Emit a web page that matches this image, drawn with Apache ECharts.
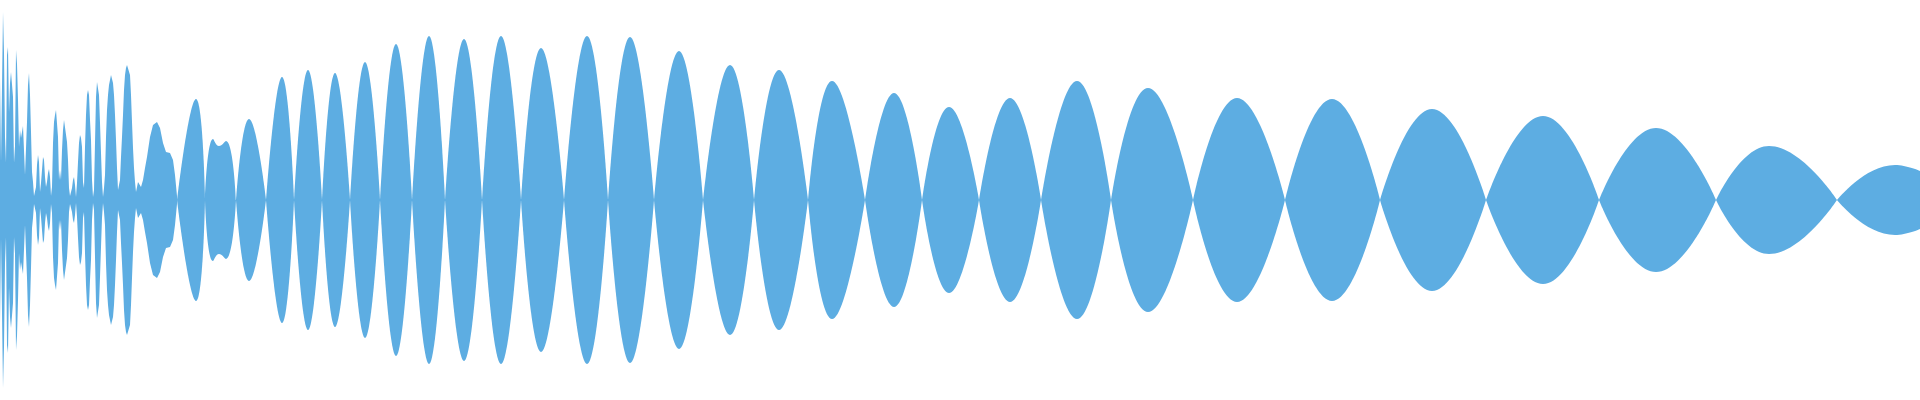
<!DOCTYPE html>
<html>
<head>
<meta charset="utf-8">
<script src="https://cdn.jsdelivr.net/npm/echarts@6/dist/echarts.min.js"></script>
<style>
html,body{margin:0;padding:0;background:#ffffff;}
#chart{width:1920px;height:400px;}
</style>
</head>
<body>
<div id="chart"></div>
<script>
// Sample amplitude (arbitrary units, full scale = 200) for the dense, noisy start (sample index = array index)
const headAmp = [
  123, 38, 38, 188, 147, 63, 37, 145, 153, 87,
  117, 128, 129, 103, 37, 54, 150, 136, 100, 53,
  70, 62, 62, 74, 73, 25, 23, 78, 115, 127,
  105, 68, 28, 18, 4, 4, 13, 35, 45, 38,
  8, 17, 30, 43, 40, 23, 13, 18, 27, 31,
  23, 4, 13, 57, 78, 85, 90, 88, 63, 20,
  30, 20, 50, 70, 80, 81, 81, 58, 40, 12,
  4, 5, 12, 20, 23, 15, 3, 17, 38, 57,
  65, 62, 53, 18, 12, 53, 85, 105, 110, 105,
  80, 60, 20, 3, 10, 57, 103, 118, 118, 105,
  77, 47, 18, 3, 12, 25, 63, 90, 105, 115,
  120, 125, 124, 117, 105, 85, 60, 32, 10, 8,
  20, 43, 63, 85, 110, 125, 132, 135, 137, 133,
  125, 105, 78, 52, 32, 18, 8, 6, 18, 16
];
// Shouldered lobe right after the noisy start
const shoulderX   = [141, 143, 145, 147, 150, 153, 157, 160, 163, 166, 170, 173, 175, 177];
const shoulderAmp = [13, 20, 32, 43, 63, 75, 78, 72, 57, 48, 47, 40, 25, 4];

// Smooth lobes: sample positions and amplitudes (start, peak(s), end)
const lobeX = [
  [177, 196, 205], [205, 213, 219, 226, 236], [236, 249, 266], [266, 282, 294],
  [294, 308, 322], [322, 335, 350], [350, 365, 380], [380, 396, 412],
  [412, 429, 445], [445, 464, 482], [482, 501, 521], [521, 541, 564],
  [564, 587, 608], [608, 630, 654], [654, 679, 703], [703, 730, 754],
  [754, 779, 808], [808, 832, 865], [865, 894, 922], [922, 949, 979],
  [979, 1010, 1041], [1041, 1077, 1111], [1111, 1148, 1193], [1193, 1237, 1285],
  [1285, 1332, 1380], [1380, 1432, 1486], [1486, 1543, 1599], [1599, 1656, 1716],
  [1716, 1769, 1837], [1837, 1895, 1920]
];
const lobeAmp = [
  [0, 101, 0], [0, 61, 54, 59, 0], [0, 81, 0], [0, 123, 0],
  [0, 130, 0], [0, 127, 0], [0, 138, 0], [0, 156, 0],
  [0, 164, 0], [0, 161, 0], [0, 164, 0], [0, 152, 0],
  [0, 164, 0], [0, 163, 0], [0, 149, 0], [0, 135, 0],
  [0, 130, 0], [0, 119, 0], [0, 107, 0], [0, 93, 0],
  [0, 102, 0], [0, 119, 0], [0, 112, 0], [0, 102, 0],
  [0, 101, 0], [0, 91, 0], [0, 84, 0], [0, 72, 0],
  [0, 54, 0], [0, 35, 29]
];

const COLOR = '#5dade2';

function areaSeries(data, smooth) {
  return {
    type: 'line',
    data: data,
    smooth: smooth,
    showSymbol: false,
    symbol: 'none',
    lineStyle: { width: 0, opacity: 0 },
    areaStyle: { color: COLOR, opacity: 1 },
    itemStyle: { color: COLOR },
    silent: true
  };
}

const series = [];
const headUpper = headAmp.map((v, i) => [i, v]).concat(shoulderX.map((x, i) => [x, shoulderAmp[i]]));
series.push(areaSeries(headUpper, false));
series.push(areaSeries(headUpper.map(p => [p[0], -p[1]]), false));

lobeX.forEach((xs, k) => {
  const up = xs.map((x, j) => [x, lobeAmp[k][j]]);
  series.push(areaSeries(up, true));
  series.push(areaSeries(up.map(p => [p[0], -p[1]]), true));
});

const chart = echarts.init(document.getElementById('chart'), null, { renderer: 'canvas' });
chart.setOption({
  animation: false,
  backgroundColor: '#ffffff',
  grid: { left: 0, right: 0, top: 0, bottom: 0 },
  xAxis: { type: 'value', min: 0, max: 1920, show: false },
  yAxis: { type: 'value', min: -200, max: 200, show: false },
  series: series
});
</script>
</body>
</html>
